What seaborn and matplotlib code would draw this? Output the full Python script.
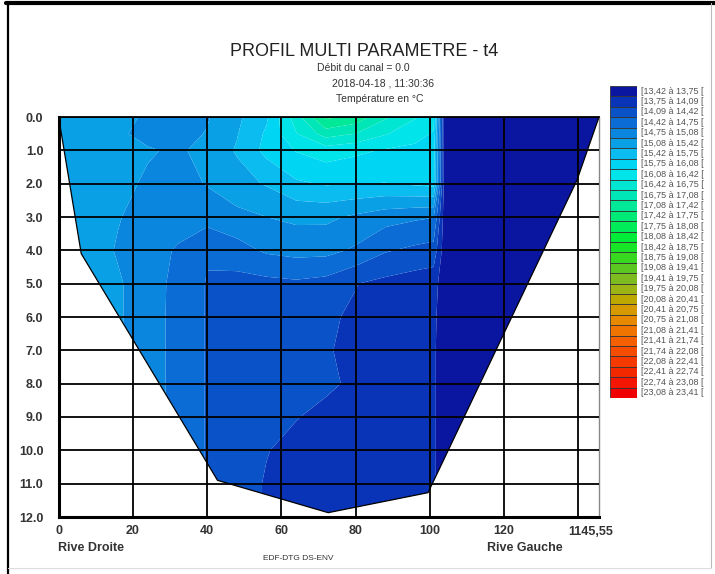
import numpy as np
import matplotlib
matplotlib.use("Agg")
import matplotlib.pyplot as plt
import seaborn as sns
from matplotlib.patches import Polygon
from matplotlib.lines import Line2D

# ---------------- data ----------------
level_bounds = [13.42, 13.75, 14.09, 14.42, 14.75, 15.08, 15.42, 15.75, 16.08, 16.42,
                16.75, 17.08, 17.42, 17.75, 18.08, 18.42, 18.75, 19.08, 19.41, 19.75,
                20.08, 20.41, 20.75, 21.08, 21.41, 21.74, 22.08, 22.41, 22.74, 23.08, 23.41]
level_colors = ["#0a16a0", "#0a34b8", "#0a52c8", "#0a6cd4", "#0a86de", "#0aa0e6",
                "#0abcf0", "#00d6f4", "#00e4ea", "#00e6d2", "#00e6b6", "#00e898",
                "#00ea78", "#00ec58", "#00ec38", "#18e428", "#38d820", "#5ac820",
                "#7cbc20", "#9cb414", "#bca800", "#d49a00", "#e68800", "#f07400",
                "#f46000", "#f44c00", "#f43a00", "#f42800", "#f41600", "#f00000"]

stations_x = [0, 8, 16, 24, 32, 40, 48, 56, 64, 72, 80, 88, 96, 101,
              104, 112, 120, 130, 140, 145.55]
depths = [0, 0.5, 1, 2, 3, 4, 5, 6, 7, 8, 9, 10, 11, 12]

# temperature profiles (°C) per depth, left bank -> right bank
t_d00 = [15.30, 15.30, 15.25, 15.00, 14.98, 15.05, 15.35, 15.70, 16.60, 17.50, 17.30, 16.80, 16.45, 16.20, 13.55, 13.55, 13.55, 13.55, 13.55, 13.55]
t_d05 = [15.30, 15.30, 15.15, 14.95, 14.95, 15.10, 15.40, 15.80, 16.40, 16.90, 16.75, 16.45, 16.20, 16.05, 13.55, 13.55, 13.55, 13.55, 13.55, 13.55]
t_d01 = [15.30, 15.28, 15.20, 15.12, 15.02, 15.20, 15.45, 15.85, 16.10, 16.25, 16.15, 16.05, 16.00, 15.95, 13.55, 13.55, 13.55, 13.55, 13.55, 13.55]
t_d02 = [15.30, 15.30, 15.20, 15.02, 14.95, 15.10, 15.30, 15.45, 15.70, 15.78, 15.76, 15.74, 15.80, 15.85, 13.55, 13.55, 13.55, 13.55, 13.55, 13.55]
t_d03 = [15.30, 15.25, 15.10, 14.95, 14.88, 14.88, 14.98, 15.08, 15.15, 15.15, 15.02, 14.88, 14.80, 14.76, 13.55, 13.55, 13.55, 13.55, 13.55, 13.55]
t_d04 = [15.30, 15.25, 15.05, 14.88, 14.72, 14.45, 14.62, 14.80, 14.86, 14.85, 14.70, 14.45, 14.35, 14.30, 13.55, 13.55, 13.55, 13.55, 13.55, 13.55]
t_d05m = [15.30, 15.25, 15.12, 14.90, 14.66, 14.40, 14.30, 14.32, 14.36, 14.30, 14.10, 14.00, 13.92, 13.88, 13.55, 13.55, 13.55, 13.55, 13.55, 13.55]
t_d06 = [15.30, 15.25, 15.12, 14.90, 14.65, 14.40, 14.30, 14.26, 14.22, 14.13, 14.05, 13.97, 13.88, 13.82, 13.55, 13.55, 13.55, 13.55, 13.55, 13.55]
t_d07 = [15.30, 15.25, 15.12, 14.90, 14.65, 14.40, 14.30, 14.25, 14.20, 14.11, 14.03, 13.95, 13.86, 13.80, 13.55, 13.55, 13.55, 13.55, 13.55, 13.55]
t_d08 = [15.30, 15.25, 15.12, 14.90, 14.65, 14.40, 14.30, 14.25, 14.20, 14.13, 14.05, 13.95, 13.86, 13.80, 13.55, 13.55, 13.55, 13.55, 13.55, 13.55]
t_d09 = [15.30, 15.25, 15.12, 14.90, 14.65, 14.40, 14.30, 14.20, 14.10, 14.03, 13.98, 13.92, 13.85, 13.80, 13.55, 13.55, 13.55, 13.55, 13.55, 13.55]
t_d10 = [15.30, 15.25, 15.12, 14.90, 14.65, 14.40, 14.25, 14.10, 14.02, 13.98, 13.95, 13.90, 13.85, 13.80, 13.55, 13.55, 13.55, 13.55, 13.55, 13.55]
t_d11 = [15.30, 15.25, 15.12, 14.90, 14.65, 14.40, 14.20, 14.07, 14.00, 13.97, 13.94, 13.90, 13.85, 13.80, 13.55, 13.55, 13.55, 13.55, 13.55, 13.55]
t_d12 = [15.30, 15.25, 15.12, 14.90, 14.65, 14.40, 14.20, 14.07, 14.00, 13.97, 13.94, 13.90, 13.85, 13.80, 13.55, 13.55, 13.55, 13.55, 13.55, 13.55]

bank_x = [0, 6.1, 42.8, 72.6, 99.5, 139.6, 145.55]
bank_depth = [0, 4.1, 10.9, 11.87, 11.27, 1.9, 0]

x_ticks = [0, 20, 40, 60, 80, 100, 120, 140]
x_ticklabels = ["0", "20", "40", "60", "80", "100", "120", ""]
y_ticks = list(range(0, 13))
y_ticklabels = [f"{v:.1f}" for v in y_ticks]

title = "PROFIL MULTI PARAMETRE - t4"
sub1 = "Débit du canal = 0.0"
sub2 = "2018-04-18 , 11:30:36"
sub3 = "Température en °C"

# ---------------- figure ----------------
sns.set_theme(style="white")
plt.rcParams["font.family"] = ["Liberation Sans", "DejaVu Sans"]
narrow = ["Liberation Sans Narrow", "Liberation Sans", "DejaVu Sans"]

palette = sns.color_palette(level_colors)

fig = plt.figure(figsize=(7.15, 5.74), dpi=100)
fig.patch.set_facecolor("white")

W, H = 715.0, 574.0
def fx(px): return px / W
def fy(py): return 1 - py / H

ax = fig.add_axes([fx(58.6), fy(517), fx(599) - fx(58.6), fy(117) - fy(517)])
ax.set_facecolor("white")

Z = np.array([t_d00, t_d05, t_d01, t_d02, t_d03, t_d04, t_d05m, t_d06,
              t_d07, t_d08, t_d09, t_d10, t_d11, t_d12])
X, Y = np.meshgrid(stations_x, depths)
cs = ax.contourf(X, Y, Z, levels=level_bounds, colors=palette, antialiased=True, zorder=1)
clip = Polygon(np.column_stack([bank_x, bank_depth]), closed=True, transform=ax.transData)
cs.set_clip_path(clip)
ax.plot(bank_x, bank_depth, color="black", lw=0.9, zorder=3)

ax.set_xlim(0, 145.55)
ax.set_ylim(12, 0)
ax.set_xticks(x_ticks)
ax.set_xticklabels(x_ticklabels)
ax.set_yticks(y_ticks)
ax.set_yticklabels(y_ticklabels)
ax.set_axisbelow(False)
ax.grid(True, color="black", lw=1.3)
ax.tick_params(axis="both", length=0, labelcolor="#333333")
ax.tick_params(axis="x", pad=6)
ax.tick_params(axis="y", pad=11)
for lab in ax.get_xticklabels() + ax.get_yticklabels():
    lab.set_family(narrow)
    lab.set_fontweight("bold")
    lab.set_fontsize(9)

for side in ["left", "bottom"]:
    ax.spines[side].set_color("black")
    ax.spines[side].set_linewidth(2.2)
ax.spines["top"].set_color("black")
ax.spines["top"].set_linewidth(1.3)
ax.spines["right"].set_color("#888888")
ax.spines["right"].set_linewidth(1.0)

ax.text(143.4, 12.28, "1145,55", transform=ax.transData, ha="center", va="top",
        fontsize=9, fontweight="bold", color="#333333", family=narrow, clip_on=False)

# titles
fig.text(fx(364.5), fy(52), title, ha="center", va="center", fontsize=13, color="#222222")
fig.text(fx(363), fy(68), sub1, ha="center", va="center", fontsize=7.5, color="#333333")
fig.text(fx(383), fy(84), sub2, ha="center", va="center", fontsize=7.5, color="#333333")
fig.text(fx(380), fy(99), sub3, ha="center", va="center", fontsize=7.5, color="#333333")

fig.text(fx(58), fy(548), "Rive Droite", ha="left", va="center", fontsize=9,
         fontweight="bold", color="#333333", family=narrow)
fig.text(fx(487), fy(548), "Rive Gauche", ha="left", va="center", fontsize=9,
         fontweight="bold", color="#333333", family=narrow)
fig.text(fx(298), fy(559), "EDF-DTG DS-ENV", ha="center", va="center", fontsize=6,
         color="#333333", family=narrow)

# legend
lax = fig.add_axes([fx(610), fy(398), fx(637) - fx(610), fy(86) - fy(398)])
n = len(level_colors)
lax.barh(np.arange(n), [1] * n, height=1.0, left=0, color=palette,
         edgecolor="#333333", linewidth=0.6)
lax.set_xlim(0, 1)
lax.set_ylim(n - 0.5, -0.5)
lax.axis("off")
for i in range(n):
    a = f"{level_bounds[i]:.2f}".replace(".", ",")
    b = f"{level_bounds[i + 1]:.2f}".replace(".", ",")
    lax.text(1.15, i, f"[{a} à {b} [", ha="left", va="center", fontsize=6.5,
             color="#555555", clip_on=False)

# outer frame
fig.add_artist(Line2D([fx(6), fx(715)], [fy(3), fy(3)], color="black", lw=3.0,
                      transform=fig.transFigure))
fig.add_artist(Line2D([fx(7.5), fx(7.5)], [fy(3), fy(574)], color="black", lw=1.6,
                      transform=fig.transFigure))
fig.add_artist(Line2D([fx(711), fx(711)], [fy(3), fy(568)], color="#bbbbbb", lw=0.8,
                      transform=fig.transFigure))
fig.add_artist(Line2D([fx(7.5), fx(711)], [fy(568), fy(568)], color="#dddddd", lw=0.8,
                      transform=fig.transFigure))

fig.savefig("out.png", dpi=100)
